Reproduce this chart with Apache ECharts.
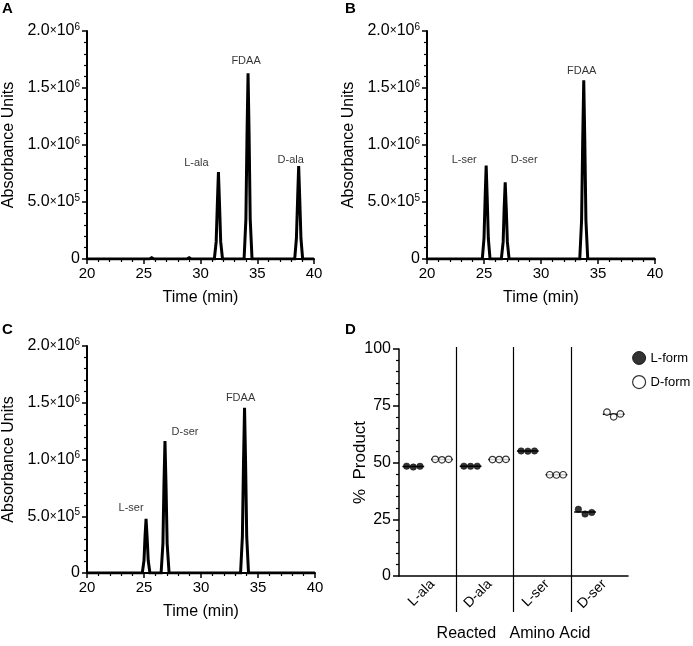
<!DOCTYPE html>
<html>
<head>
<meta charset="utf-8">
<script src="https://cdn.jsdelivr.net/npm/echarts@6/dist/echarts.min.js"></script>
<style>html,body{margin:0;padding:0;background:#fff}#c{width:693px;height:646px}</style>
</head>
<body>
<div id="c"></div>
<script>
// ---------- Data ----------
const timeTicks = [20, 25, 30, 35, 40];
const absTicks = [0, 5e5, 1e6, 1.5e6, 2e6];

// Chromatogram traces [time (min), absorbance]
const traceA = [[20,0],[25.5,0],[25.7,1.2e4],[25.9,0],[28.8,0],[29.0,1.2e4],[29.2,0],
  [31.22,0],[31.38,1.5e5],[31.49,5.0e5],[31.58,7.63e5],[31.67,5.0e5],[31.78,1.5e5],[31.94,0],
  [33.2,0],[33.3,6e3],[33.4,0],
  [33.84,0],[34.0,3.5e5],[34.1,1.1e6],[34.19,1.63e6],[34.28,1.1e6],[34.38,3.5e5],[34.54,0],
  [38.3,0],[38.45,1.8e5],[38.56,5.4e5],[38.65,8.16e5],[38.74,5.4e5],[38.85,1.8e5],[39.0,0],[40,0]];
const traceB = [[20,0],
  [24.85,0],[25.0,1.8e5],[25.1,5.4e5],[25.19,8.19e5],[25.28,5.4e5],[25.38,1.8e5],[25.53,0],
  [26.52,0],[26.68,1.5e5],[26.77,4.5e5],[26.86,6.73e5],[26.95,4.5e5],[27.05,1.5e5],[27.2,0],
  [28.35,0],[28.5,1.0e4],[28.65,0],
  [33.4,0],[33.56,3.4e5],[33.66,1.05e6],[33.75,1.567e6],[33.84,1.05e6],[33.94,3.4e5],[34.1,0],[40,0]];
const traceC = [[20,0],
  [24.85,0],[25.0,1.1e5],[25.09,3.2e5],[25.18,4.77e5],[25.27,3.2e5],[25.37,1.1e5],[25.52,0],
  [26.5,0],[26.66,2.6e5],[26.75,7.8e5],[26.84,1.163e6],[26.93,7.8e5],[27.03,2.6e5],[27.2,0],
  [28.45,0],[28.6,1.0e4],[28.75,0],
  [33.47,0],[33.63,3.2e5],[33.73,9.8e5],[33.82,1.455e6],[33.91,9.8e5],[34.01,3.2e5],[34.17,0],[40,0]];

// Peak labels (name, apex time, apex height)
const peaksA = [['L-ala',31.58,7.63e5],['FDAA',34.19,1.63e6],['D-ala',38.65,8.16e5]];
const peaksB = [['L-ser',25.19,8.19e5],['D-ser',26.86,6.73e5],['FDAA',33.75,1.567e6]];
const peaksC = [['L-ser',25.18,4.77e5],['D-ser',26.84,1.163e6],['FDAA',33.82,1.455e6]];

// Panel D
const aminoAcids = ['L-ala','D-ala','L-ser','D-ser'];
const lForm = [[48.4,48.0,48.3],[48.4,48.3,48.4],[55.1,55.0,55.1],[29.4,27.3,28.0]];
const dForm = [[51.4,51.2,51.4],[51.3,51.3,51.4],[44.6,44.5,44.6],[72.2,70.1,71.4]];
const productTicks = [0, 25, 50, 75, 100];

// ---------- Styles ----------
const FONT = '"Liberation Sans", Arial, Helvetica, sans-serif';
const BLACK = '#000';
const labelOffsets = {
  A: [[-22,-9],[-2,-12],[-8,-6]],
  B: [[-22,-6],[19,-22],[-2,-9]],
  C: [[-15,-11],[20,-9],[-4,-10]]
};

function sciFmt(v){
  if (v === 0) return '{m|0}';
  const e = Math.floor(Math.log10(v) + 1e-9);
  const m = (v / Math.pow(10, e)).toFixed(1);
  return '{m|' + m + '}{x|×}{m|10}{s|' + e + '}';
}

const grids = [
  {left:87, top:31, width:227, height:228},
  {left:427, top:31, width:228, height:228},
  {left:87, top:346, width:228, height:227},
  {left:399, top:349, width:229, height:227},
  {left:399, top:347, width:229, height:265}
];

const xAxes = [], yAxes = [], series = [];

function chromAxes(gi){
  xAxes.push({
    gridIndex: gi, type:'value', min: timeTicks[0], max: timeTicks[timeTicks.length-1],
    interval: timeTicks[1]-timeTicks[0],
    name:'Time (min)', nameLocation:'middle', nameGap:31, nameMoveOverlap:false,
    nameTextStyle:{fontFamily:FONT, fontSize:16, color:BLACK},
    axisLine:{show:true, onZero:false, lineStyle:{color:BLACK, width:2}},
    axisTick:{show:true, length:5, lineStyle:{color:BLACK, width:1.5}},
    minorTick:{show:true, splitNumber:5, length:3, lineStyle:{color:BLACK, width:1.2}},
    axisLabel:{fontFamily:FONT, fontSize:15, color:BLACK, margin:7},
    splitLine:{show:false}
  });
  yAxes.push({
    gridIndex: gi, type:'value', min: absTicks[0], max: absTicks[absTicks.length-1],
    interval: absTicks[1]-absTicks[0],
    name:'Absorbance Units', nameLocation:'middle', nameGap:70, nameMoveOverlap:false,
    nameTextStyle:{fontFamily:FONT, fontSize:16, color:BLACK},
    axisLine:{show:true, lineStyle:{color:BLACK, width:2}},
    axisTick:{show:true, length:5, lineStyle:{color:BLACK, width:1.5}},
    minorTick:{show:true, splitNumber:5, length:3, lineStyle:{color:BLACK, width:1.2}},
    axisLabel:{formatter:sciFmt, margin:7, color:BLACK, fontFamily:FONT, fontSize:15,
      rich:{
        m:{fontFamily:FONT, fontSize:16, color:BLACK, lineHeight:18},
        x:{fontFamily:FONT, fontSize:12, color:BLACK, lineHeight:18},
        s:{fontFamily:FONT, fontSize:10, color:BLACK, lineHeight:9, verticalAlign:'top'}
      }},
    splitLine:{show:false}
  });
}
chromAxes(0); chromAxes(1); chromAxes(2);

function addTrace(gi, trace, peaks, offs){
  series.push({
    type:'line', xAxisIndex:gi, yAxisIndex:gi, data:trace, showSymbol:false, symbol:'none',
    lineStyle:{color:BLACK, width:3, join:'miter'}, animation:false, silent:true, clip:true
  });
  series.push({
    type:'scatter', xAxisIndex:gi, yAxisIndex:gi, symbolSize:0, animation:false, silent:true,
    data: peaks.map((p,i)=>({name:p[0], value:[p[1],p[2]],
      label:{show:true, position:'inside', offset:offs[i], formatter:'{b}',
        fontFamily:FONT, fontSize:11, color:BLACK, align:'center', verticalAlign:'middle'}}))
  });
}
addTrace(0, traceA, peaksA, labelOffsets.A);
addTrace(1, traceB, peaksB, labelOffsets.B);
addTrace(2, traceC, peaksC, labelOffsets.C);

// Panel D axes: category axis (index 3), hidden value axis (index 4) for points
xAxes.push({
  gridIndex:3, type:'category', data:aminoAcids, boundaryGap:true,
  name:'Reacted   Amino Acid', nameLocation:'middle', nameGap:50, nameMoveOverlap:false,
  nameTextStyle:{fontFamily:FONT, fontSize:16, color:BLACK},
  axisLine:{show:true, lineStyle:{color:BLACK, width:1.5}},
  axisTick:{show:false},
  axisLabel:{rotate:45, fontFamily:FONT, fontSize:14, color:BLACK, margin:1, verticalAlign:'top', padding:[0,0,0,0]},
  splitLine:{show:false}
});
xAxes.push({gridIndex:3, type:'value', min:0, max:aminoAcids.length, show:false});
yAxes.push({
  gridIndex:3, type:'value', min:productTicks[0], max:productTicks[productTicks.length-1],
  interval:productTicks[1]-productTicks[0],
  name:'%  Product', nameLocation:'middle', nameGap:30, nameMoveOverlap:false,
  nameTextStyle:{fontFamily:FONT, fontSize:17, color:BLACK},
  axisLine:{show:true, lineStyle:{color:BLACK, width:1.5}},
  axisTick:{show:true, length:6, lineStyle:{color:BLACK, width:1.5}},
  minorTick:{show:true, splitNumber:5, length:3, lineStyle:{color:BLACK, width:1.2}},
  axisLabel:{fontFamily:FONT, fontSize:16, color:BLACK, margin:8},
  splitLine:{show:false}
});
// separator grid (index 4)
xAxes.push({
  gridIndex:4, type:'value', min:0, max:aminoAcids.length, interval:1,
  axisLine:{show:false}, axisTick:{show:false}, axisLabel:{show:false},
  splitLine:{show:true, showMinLine:false, showMaxLine:false, lineStyle:{color:BLACK, width:1.2}}
});
yAxes.push({gridIndex:4, type:'value', min:0, max:1, show:false});

const jitter = [-0.117, 0, 0.117];
function groupPoints(vals, shift){
  const pts = [];
  vals.forEach((g, i) => g.forEach((v, j) => pts.push([i + shift + jitter[j], v])));
  return pts;
}
function addMeans(vals, shift){
  vals.forEach((g, i) => {
    const m = g.reduce((a,b)=>a+b,0)/g.length;
    const cx = i + shift;
    series.push({type:'line', xAxisIndex:4, yAxisIndex:3, data:[[cx-0.19,m],[cx+0.19,m]],
      symbol:'none', lineStyle:{color:BLACK, width:1.5}, animation:false, silent:true, z:1});
  });
}
addMeans(lForm, 0.25);
addMeans(dForm, 0.75);
series.push({
  name:'L-form', type:'scatter', xAxisIndex:4, yAxisIndex:3, data:groupPoints(lForm,0.25),
  symbol:'circle', symbolSize:6.5, itemStyle:{color:BLACK, borderColor:BLACK, borderWidth:0.5}, animation:false, z:3
});
series.push({
  name:'D-form', type:'scatter', xAxisIndex:4, yAxisIndex:3, data:groupPoints(dForm,0.75),
  symbol:'circle', symbolSize:6.5, itemStyle:{color:'#fff', borderColor:BLACK, borderWidth:1.2}, animation:false, z:3
});
series.push({type:'scatter', xAxisIndex:5, yAxisIndex:4, data:[], silent:true});

const letterStyle = {fontFamily:FONT, fontSize:15, fontWeight:'bold', color:BLACK};
const chart = echarts.init(document.getElementById('c'), null, {renderer:'canvas'});
chart.setOption({
  animation:false,
  backgroundColor:'#fff',
  title:[
    {text:'A', left:2, top:1, padding:0, textStyle:letterStyle},
    {text:'B', left:345, top:1, padding:0, textStyle:letterStyle},
    {text:'C', left:2, top:322, padding:0, textStyle:letterStyle},
    {text:'D', left:345, top:322, padding:0, textStyle:letterStyle}
  ],
  legend:{
    data:[
      {name:'L-form', icon:'circle', itemStyle:{color:BLACK, borderColor:BLACK, borderWidth:1}},
      {name:'D-form', icon:'circle', itemStyle:{color:'#fff', borderColor:BLACK, borderWidth:1.2}}
    ],
    orient:'vertical', left:632, top:351, itemWidth:13, itemHeight:13, itemGap:10, padding:0,
    textStyle:{fontFamily:FONT, fontSize:13, color:BLACK}, selectedMode:false
  },
  grid:grids,
  xAxis:xAxes,
  yAxis:yAxes,
  series:series
});
</script>
</body>
</html>
